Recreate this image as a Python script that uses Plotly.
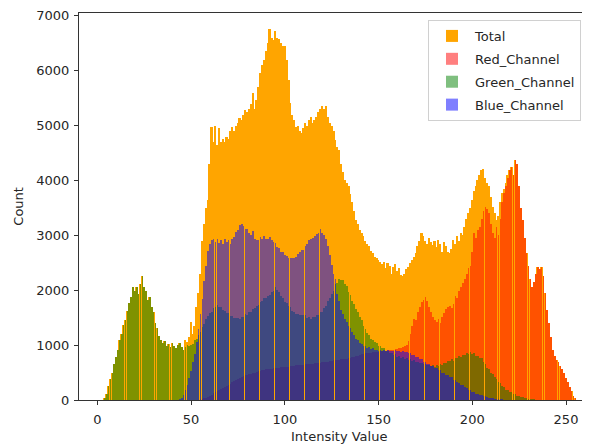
import plotly.graph_objects as go

intensity = list(range(256))

total_counts = [
    0, 0, 0, 0, 30, 110, 250, 390, 500, 650,
    790, 920, 1090, 1210, 1360, 1460, 1620, 1760, 1880, 2060,
    1990, 2050, 1930, 2120, 2250, 2060, 1990, 1820, 1880, 1700,
    1600, 1400, 1310, 1160, 1090, 1040, 1070, 990, 1020, 960,
    1030, 990, 950, 1010, 1030, 970, 910, 1100, 1060, 1150,
    1420, 1200, 1350, 1700, 1950, 2300, 2900, 3200, 3500, 3650,
    4300, 4980, 4700, 5000, 4650, 4950, 4700, 4750, 4700, 4800,
    4750, 4900, 4980, 4900, 5000, 5050, 5140, 5100, 5200, 5290,
    5250, 5300, 5400, 5590, 5300, 5470, 5700, 5960, 6100, 6200,
    6350, 6500, 6750, 6600, 6550, 6720, 6600, 6570, 6500, 6450,
    6440, 6200, 5830, 5410, 5200, 5100, 4980, 5000, 4900, 4870,
    4950, 5050, 5000, 5100, 5160, 5050, 5100, 5160, 5250, 5300,
    5350, 5300, 5350, 5150, 5050, 5000, 4900, 4740, 4600, 4560,
    4300, 4150, 4010, 3950, 3890, 3750, 3600, 3450, 3280, 3200,
    3100, 3040, 2980, 2900, 2850, 2800, 2720, 2680, 2610, 2580,
    2550, 2520, 2480, 2520, 2400, 2500, 2450, 2300, 2420, 2480,
    2350, 2400, 2280, 2250, 2300, 2380, 2430, 2500, 2550, 2600,
    2670, 2800, 2900, 3040, 2980, 2900, 2850, 2950, 2880, 2820,
    2900, 2780, 2920, 2850, 2700, 2880, 2800, 2700, 2670, 2750,
    2920, 2850, 2980, 2900, 3040, 3000, 3150, 3300, 3400, 3500,
    3650, 3800, 3890, 4000, 4100, 4190, 4200, 4050, 3950, 3890,
    3700, 3520, 3400, 3280, 3350, 3600, 3770, 3850, 3950, 4100,
    4190, 4250, 4100, 4375, 4300, 3890, 3500, 3280, 2950, 2670,
    2450, 2200, 2060, 2150, 2300, 2430, 2380, 2430, 2250, 1950,
    1640, 1400, 1150, 910, 800, 730, 700, 620, 560, 490,
    400, 320, 240, 160, 80, 30,
]

red_counts = [
    0, 0, 0, 0, 0, 0, 0, 0, 0, 0,
    0, 0, 0, 0, 0, 0, 0, 0, 0, 0,
    0, 0, 0, 0, 0, 0, 0, 0, 0, 0,
    0, 0, 0, 0, 0, 0, 0, 0, 0, 0,
    0, 0, 0, 0, 0, 0, 0, 0, 0, 0,
    0, 0, 0, 0, 0, 10, 20, 30, 40, 60,
    80, 100, 120, 140, 160, 180, 200, 220, 240, 260,
    280, 300, 320, 340, 360, 380, 400, 420, 440, 450,
    460, 470, 480, 490, 500, 510, 520, 530, 540, 550,
    560, 560, 570, 570, 580, 580, 590, 590, 600, 600,
    600, 610, 610, 620, 620, 620, 630, 630, 640, 640,
    640, 650, 650, 660, 660, 660, 670, 670, 680, 680,
    690, 690, 700, 700, 710, 710, 720, 720, 730, 730,
    740, 740, 750, 750, 760, 770, 780, 790, 800, 810,
    820, 830, 840, 850, 850, 860, 860, 870, 870, 880,
    880, 890, 890, 900, 900, 910, 910, 920, 920, 930,
    930, 940, 950, 960, 980, 1000, 1080, 1200, 1350, 1480,
    1460, 1600, 1700, 1780, 1820, 1880, 1800, 1700, 1600, 1520,
    1450, 1420, 1480, 1400, 1520, 1580, 1650, 1700, 1720, 1680,
    1750, 1900, 1850, 1980, 2050, 2130, 2200, 2300, 2400, 2450,
    2700, 3040, 2950, 3100, 3160, 3300, 3450, 3520, 3480, 3400,
    3200, 3040, 2950, 3160, 3000, 3300, 3600, 3770, 3900, 4050,
    4190, 4250, 4100, 4375, 4300, 3890, 3500, 3280, 2950, 2670,
    2450, 2200, 2060, 2150, 2300, 2430, 2380, 2430, 2250, 1950,
    1640, 1400, 1150, 910, 800, 730, 700, 620, 560, 490,
    400, 320, 240, 160, 80, 30,
]

green_counts = [
    0, 0, 0, 0, 30, 110, 250, 390, 500, 650,
    790, 920, 1090, 1210, 1360, 1460, 1620, 1760, 1880, 2060,
    1990, 2050, 1930, 2120, 2250, 2060, 1990, 1820, 1880, 1700,
    1600, 1400, 1310, 1160, 1090, 1040, 1070, 990, 1020, 960,
    1030, 990, 950, 1010, 1030, 970, 910, 960, 1000, 980,
    1010, 1020, 1090, 1110, 1190, 1240, 1330, 1390, 1480, 1530,
    1590, 1610, 1680, 1700, 1730, 1690, 1690, 1640, 1630, 1590,
    1590, 1530, 1530, 1490, 1500, 1490, 1470, 1520, 1520, 1560,
    1550, 1610, 1610, 1660, 1670, 1710, 1730, 1790, 1810, 1850,
    1850, 1890, 1910, 1970, 1990, 2060, 2010, 1970, 1890, 1860,
    1790, 1770, 1710, 1690, 1630, 1610, 1570, 1570, 1540, 1550,
    1540, 1540, 1500, 1510, 1480, 1510, 1510, 1550, 1550, 1610,
    1610, 1670, 1710, 1810, 1850, 1930, 1990, 2110, 2140, 2200,
    2180, 2190, 2110, 2070, 1970, 1910, 1810, 1750, 1650, 1600,
    1510, 1450, 1350, 1300, 1220, 1190, 1120, 1100, 1050, 1040,
    990, 990, 940, 940, 900, 900, 860, 860, 820, 830,
    790, 800, 770, 780, 750, 760, 730, 740, 710, 720,
    690, 700, 670, 680, 650, 660, 630, 640, 620, 630,
    610, 630, 620, 650, 640, 670, 670, 710, 710, 750,
    710, 770, 770, 800, 790, 820, 820, 850, 840, 870,
    840, 850, 810, 810, 770, 760, 690, 660, 590, 560,
    490, 470, 410, 390, 330, 310, 250, 240, 190, 190,
    150, 150, 110, 110, 80, 80, 55, 50, 35, 30,
    25, 20, 15, 10, 8, 5, 3, 2, 1, 0,
    0, 0, 0, 0, 0, 0, 0, 0, 0, 0,
    0, 0, 0, 0, 0, 0,
]

blue_counts = [
    0, 0, 0, 0, 0, 0, 0, 0, 0, 0,
    0, 0, 0, 0, 0, 0, 0, 0, 0, 0,
    0, 0, 0, 0, 0, 0, 0, 0, 0, 0,
    0, 0, 0, 0, 0, 0, 0, 0, 0, 0,
    0, 0, 0, 0, 10, 40, 100, 180, 280, 400,
    520, 690, 840, 1060, 1290, 1560, 1840, 2160, 2440, 2710,
    2840, 2910, 2940, 2870, 2930, 2860, 2910, 2840, 2940, 2870,
    2910, 2850, 2930, 2970, 3060, 3090, 3190, 3210, 3170, 3110,
    3110, 3040, 3010, 3070, 2940, 2910, 2910, 2970, 2940, 2990,
    2940, 2930, 2970, 2910, 2870, 2860, 2790, 2760, 2690, 2690,
    2640, 2630, 2590, 2590, 2590, 2590, 2610, 2660, 2690, 2730,
    2740, 2810, 2840, 2910, 2940, 2960, 2990, 3030, 3040, 3110,
    3040, 3010, 2940, 2810, 2640, 2460, 2290, 2210, 1940, 1810,
    1640, 1560, 1470, 1430, 1350, 1310, 1230, 1190, 1110, 1090,
    1030, 1020, 980, 980, 950, 960, 930, 940, 910, 920,
    900, 910, 890, 910, 900, 910, 890, 900, 890, 910,
    890, 900, 880, 890, 870, 880, 850, 860, 820, 820,
    780, 780, 740, 740, 700, 700, 660, 660, 620, 620,
    580, 580, 540, 540, 500, 500, 450, 450, 410, 410,
    360, 360, 320, 310, 270, 270, 230, 220, 180, 180,
    140, 140, 110, 110, 85, 85, 65, 65, 50, 45,
    35, 30, 25, 20, 15, 12, 10, 8, 5, 3,
    0, 0, 0, 0, 0, 0, 0, 0, 0, 0,
    0, 0, 0, 0, 0, 0, 0, 0, 0, 0,
    0, 0, 0, 0, 0, 0, 0, 0, 0, 0,
    0, 0, 0, 0, 0, 0,
]

x_ticks = [0, 50, 100, 150, 200, 250]
y_ticks = [0, 1000, 2000, 3000, 4000, 5000, 6000, 7000]

FONT = "DejaVu Sans"
TXT = "#262626"

fig = go.Figure()
fig.add_trace(go.Bar(x=intensity, y=total_counts, name="Total", width=1.0,
                     marker=dict(color="#FFA500", line=dict(width=0)), legendgroup="a"))
fig.add_trace(go.Bar(x=intensity, y=red_counts, name="Red_Channel", width=0.9,
                     marker=dict(color="rgba(255,0,0,0.5)", line=dict(width=0)), legendgroup="b"))
fig.add_trace(go.Bar(x=intensity, y=green_counts, name="Green_Channel", width=0.9,
                     marker=dict(color="rgba(0,128,0,0.5)", line=dict(width=0)), legendgroup="c"))
fig.add_trace(go.Bar(x=intensity, y=blue_counts, name="Blue_Channel", width=0.9,
                     marker=dict(color="rgba(0,0,255,0.5)", line=dict(width=0)), legendgroup="d"))

# the page body has an 8px default margin; the figure is sized to end at 590x445
fig.update_layout(
    width=582, height=437, autosize=False,
    margin=dict(l=71, r=0, t=5, b=45, pad=0),
    paper_bgcolor="white", plot_bgcolor="white",
    barmode="overlay", bargap=0, bargroupgap=0,
    font=dict(family=FONT, size=13, color=TXT),
    showlegend=True,
    legend=dict(x=0.683, y=0.982, xanchor="left", yanchor="top",
                bgcolor="rgba(255,255,255,0.85)", bordercolor="#d0d0d0", borderwidth=1,
                font=dict(family=FONT, size=13, color=TXT), tracegroupgap=3,
                itemwidth=36),
    xaxis=dict(range=[-9.8, 262.8], tickvals=x_ticks, ticks="outside", ticklen=4,
               tickwidth=1, tickcolor="#333", showline=True, linecolor="#333", linewidth=1,
               mirror=True, showgrid=False, zeroline=False, ticklabelstandoff=3,
               tickfont=dict(family=FONT, size=13, color=TXT)),
    yaxis=dict(range=[0, 7050], tickvals=y_ticks, ticks="outside", ticklen=4,
               tickwidth=1, tickcolor="#333", showline=True, linecolor="#333", linewidth=1,
               mirror=False, showgrid=False, zeroline=False, ticklabelstandoff=2,
               tickfont=dict(family=FONT, size=13, color=TXT)),
    annotations=[
        dict(text="Intensity Value", xref="paper", yref="paper", x=0.5085, y=-0.0956,
             xanchor="center", yanchor="middle", showarrow=False,
             font=dict(family=FONT, size=13, color=TXT)),
        dict(text="Count", xref="paper", yref="paper", x=-0.119, y=0.5, textangle=-90,
             xanchor="center", yanchor="middle", showarrow=False,
             font=dict(family=FONT, size=13, color=TXT)),
    ],
)

fig.write_html("out.html", post_script="document.documentElement.style.overflow='hidden';")
